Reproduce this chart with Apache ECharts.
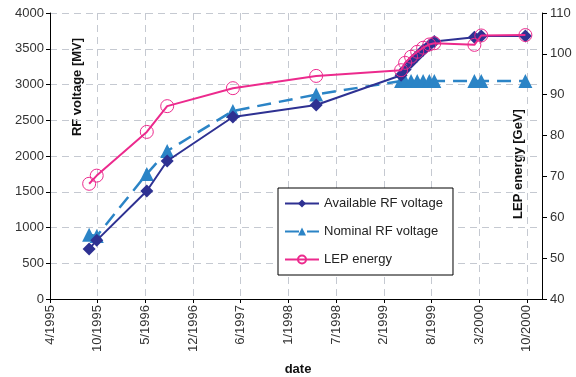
<!DOCTYPE html>
<html>
<head>
<meta charset="utf-8">
<script src="https://cdn.jsdelivr.net/npm/echarts@6/dist/echarts.min.js"></script>
<style>
  html, body { margin: 0; padding: 0; background: #fff; }
  #chart { width: 576px; height: 377px; }
</style>
</head>
<body>
<div id="chart"></div>
<script>
var dates = ['1995-09-19', '1995-10-21', '1996-05-19', '1996-08-13', '1997-05-17', '1998-05-03',
             '1999-04-26', '1999-05-13', '1999-06-07', '1999-07-03', '1999-07-28', '1999-08-23', '1999-09-13',
             '2000-02-29', '2000-03-29', '2000-10-01'];
var availableRF = [700, 820, 1510, 1930, 2545, 2713, 3130, 3210, 3310, 3400, 3480, 3550, 3600, 3660, 3680, 3680];
var nominalRF   = [900, 880, 1750, 2070, 2630, 2860, 3050, 3050, 3050, 3050, 3050, 3050, 3050, 3050, 3050, 3050];
var lepEnergy   = [68.2, 70.2, 80.9, 87.2, 91.6, 94.6, 96.0, 97.8, 99.3, 100.5, 101.5, 102.3, 102.6, 102.2, 104.5, 104.6];
var xTickLabels = ['4/1995', '10/1995', '5/1996', '12/1996', '6/1997', '1/1998', '7/1998', '2/1999', '8/1999', '3/2000', '10/2000'];

var start = Date.parse('1995-04-07');
var step = 201; // days between x ticks
function day(s) { return (Date.parse(s) - start) / 86400000; }
function pairs(vals) { return vals.map(function(v, i) { return [day(dates[i]), v]; }); }

var font = 'Liberation Sans, Arial, sans-serif';
var gridLine = { show: true, lineStyle: { color: '#c5c9d1', type: [7, 5], width: 1 } };

var myChart = echarts.init(document.getElementById('chart'));
var option = {
    animation: false,
    textStyle: { fontFamily: font },
    grid: { left: 50, right: 34, top: 13, bottom: 78 },
    xAxis: {
        type: 'value',
        min: 0,
        max: 2074,
        interval: step,
        axisLine: { lineStyle: { color: '#000' } },
        axisTick: { lineStyle: { color: '#000' }, length: 4 },
        splitLine: gridLine,
        axisLabel: {
            rotate: 90, margin: 6, color: '#333', fontSize: 13, fontFamily: font,
            showMaxLabel: false,
            formatter: function(v) {
                var i = Math.round(v / step);
                if (Math.abs(v - i * step) > 0.01 || i >= xTickLabels.length) return '';
                return xTickLabels[i];
            }
        }
    },
    yAxis: [
        {
            type: 'value', min: 0, max: 4000, interval: 500,
            axisLine: { show: true, lineStyle: { color: '#000' } },
            axisTick: { show: true, lineStyle: { color: '#000' }, length: 4 },
            splitLine: gridLine,
            axisLabel: { color: '#333', fontSize: 13, margin: 6, fontFamily: font,
                         formatter: function(v) { return String(v); } }
        },
        {
            type: 'value', min: 40, max: 110, interval: 10,
            axisLine: { show: true, lineStyle: { color: '#000' } },
            axisTick: { show: true, lineStyle: { color: '#000' }, length: 5 },
            splitLine: { show: false },
            axisLabel: { color: '#333', fontSize: 13, margin: 8, fontFamily: font }
        }
    ],
    legend: {
        orient: 'vertical',
        left: 278, top: 188,
        backgroundColor: '#fff',
        borderColor: '#000', borderWidth: 1, borderRadius: 0,
        padding: [9, 10, 9, 6],
        itemGap: 15, itemWidth: 34, itemHeight: 10,
        textStyle: { fontSize: 13, color: '#222', fontFamily: font },
        data: ['Available RF voltage', 'Nominal RF voltage', 'LEP energy']
    },
    graphic: [
        { type: 'text', x: 77, y: 87, rotation: Math.PI / 2,
          style: { text: 'RF voltage [MV]', font: 'bold 13px ' + font, fill: '#111', align: 'center', verticalAlign: 'middle' } },
        { type: 'text', x: 518, y: 164, rotation: Math.PI / 2,
          style: { text: 'LEP energy [GeV]', font: 'bold 13px ' + font, fill: '#111', align: 'center', verticalAlign: 'middle' } },
        { type: 'text', x: 298, y: 369,
          style: { text: 'date', font: 'bold 13px ' + font, fill: '#111', align: 'center', verticalAlign: 'middle' } }
    ],
    series: [
        {
            name: 'Available RF voltage', type: 'line', yAxisIndex: 0,
            symbol: 'diamond', symbolSize: 13,
            itemStyle: { color: '#2e3192' },
            lineStyle: { color: '#2e3192', width: 2 },
            data: pairs(availableRF), z: 3
        },
        {
            name: 'Nominal RF voltage', type: 'line', yAxisIndex: 0,
            symbol: 'triangle', symbolSize: 14,
            itemStyle: { color: '#2b84c6' },
            lineStyle: { color: '#2b84c6', width: 2.5, type: [14, 8] },
            data: pairs(nominalRF), z: 2
        },
        {
            name: 'LEP energy', type: 'line', yAxisIndex: 1,
            symbol: 'circle', symbolSize: 13,
            itemStyle: { color: 'rgba(255,255,255,0)', borderColor: '#ec2a8d', borderWidth: 1 },
            lineStyle: { color: '#ec2a8d', width: 2 },
            data: pairs(lepEnergy), z: 4
        }
    ]
};
myChart.setOption(option);
</script>
</body>
</html>
